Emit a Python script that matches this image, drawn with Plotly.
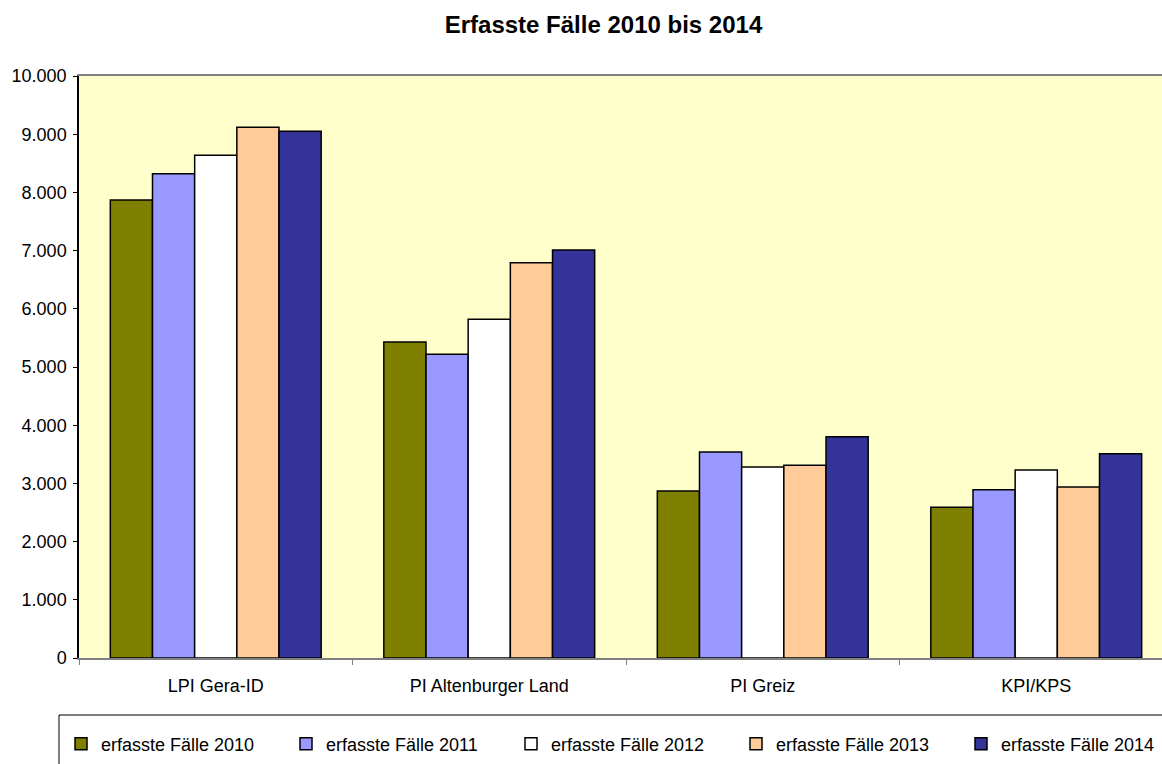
import plotly.graph_objects as go

categories = ["LPI Gera-ID", "PI Altenburger Land", "PI Greiz", "KPI/KPS"]
series_names = ["erfasste Fälle 2010", "erfasste Fälle 2011", "erfasste Fälle 2012",
                "erfasste Fälle 2013", "erfasste Fälle 2014"]
values_2010 = [7870, 5430, 2870, 2590]
values_2011 = [8320, 5220, 3540, 2890]
values_2012 = [8640, 5820, 3280, 3230]
values_2013 = [9120, 6790, 3310, 2940]
values_2014 = [9050, 7010, 3800, 3510]
colors = ["#808000", "#9999FF", "#FFFFFF", "#FFCC99", "#333399"]
y_ticks = [0, 1000, 2000, 3000, 4000, 5000, 6000, 7000, 8000, 9000, 10000]
y_tick_labels = ["0", "1.000", "2.000", "3.000", "4.000", "5.000", "6.000",
                 "7.000", "8.000", "9.000", "10.000"]

all_values = [values_2010, values_2011, values_2012, values_2013, values_2014]

W, H = 1162, 764
ML, MR, MT, MB = 79, 0, 76, 106
pw = W - ML - MR
ph = H - MT - MB
cat_px = 273.5

fig = go.Figure()
for name, vals, col in zip(series_names, all_values, colors):
    fig.add_trace(go.Bar(
        x=categories, y=vals, name=name,
        marker=dict(color=col, line=dict(color="#000000", width=1.5)),
        hoverinfo="skip",
    ))

font = "Liberation Sans, Arial, sans-serif"

fig.update_layout(
    width=W, height=H,
    margin=dict(l=ML, r=MR, t=MT, b=MB, pad=0, autoexpand=False),
    paper_bgcolor="#FFFFFF",
    plot_bgcolor="#FFFFCC",
    barmode="group",
    bargap=0.229,
    bargroupgap=0,
    font=dict(family=font, size=18, color="#000000"),
    title=dict(text="<b>Erfasste Fälle 2010 bis 2014</b>", x=603.5 / W, xanchor="center",
               y=1 - 25 / H, yanchor="middle", font=dict(size=24, family=font)),
    showlegend=True,
    legend=dict(orientation="h", x=(61 - ML) / pw, xanchor="left",
                y=(MT + ph - 744) / ph, yanchor="middle",
                entrywidth=180, entrywidthmode="pixels",
                bgcolor="rgba(0,0,0,0)", borderwidth=0,
                font=dict(size=18, family=font), traceorder="normal"),
    xaxis=dict(range=[-0.5, -0.5 + pw / cat_px], showgrid=False, zeroline=False,
               automargin=False,
               showline=True, linecolor="#808080", linewidth=1.5, mirror=True,
               ticks="outside", tickson="boundaries", ticklen=5, tickcolor="#808080",
               ticklabelstandoff=11, tickfont=dict(size=18)),
    yaxis=dict(range=[0, 10000], tickvals=y_ticks, ticktext=y_tick_labels,
               automargin=False,
               showgrid=False, zeroline=False, showline=True, linecolor="#000000",
               linewidth=1.5, ticks="outside", ticklen=4, tickcolor="#000000",
               ticklabelstandoff=3, tickfont=dict(size=18)),
    shapes=[dict(type="rect", xref="paper", yref="paper",
                 x0=(59 - ML) / pw, x1=1.05,
                 y0=(MT + ph - 715) / ph, y1=-0.3,
                 line=dict(color="#000000", width=1), fillcolor="rgba(0,0,0,0)")],
)

fig.write_html("out.html", config={"displayModeBar": False},
               post_script="document.body.style.margin='0';document.body.style.padding='0';")
